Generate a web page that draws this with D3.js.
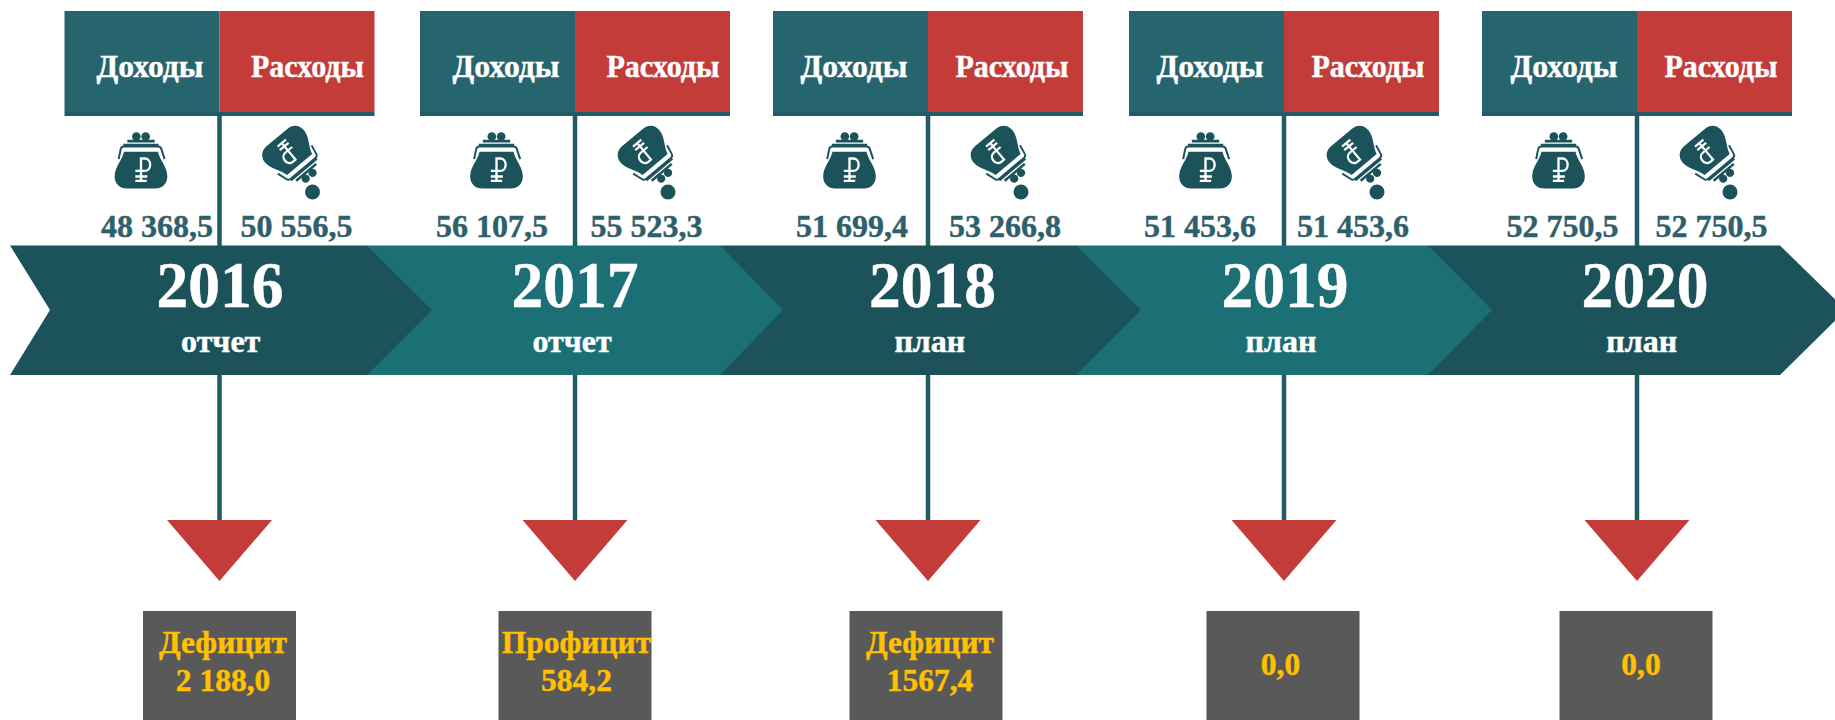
<!DOCTYPE html>
<html lang="ru">
<head>
    <meta charset="utf-8">
    <script src="https://d3js.org/d3.v7.min.js"></script>
    <style>
        html, body { margin: 0; padding: 0; background: #fff; overflow: hidden; }
        text { font-family: "Liberation Serif", serif; font-weight: bold; stroke: currentColor; stroke-width: 0.45px; }
    </style>
</head>
<body>
<div id="canvas"></div>
<script>
    // values
    var years = ["2016", "2017", "2018", "2019", "2020"];
    var statuses = ["отчет", "отчет", "план", "план", "план"];
    var incomes = [48368.5, 56107.5, 51699.4, 51453.6, 52750.5];
    var expenses = [50556.5, 55523.3, 53266.8, 51453.6, 52750.5];
    var balanceNames = ["Дефицит", "Профицит", "Дефицит", "", ""];
    var balanceValues = ["2 188,0", "584,2", "1567,4", "0,0", "0,0"];

    // the labels in the source sit a little off their columns, so offsets are per column
    var centres = [219.5, 575, 928, 1284, 1637];
    var incomeLabelDx = [-69.5, -69, -74, -74, -73];
    var expenseLabelDx = [88, 88, 84, 84, 84];
    var incomeValueDx = [-62.5, -83, -76, -84, -74.5];
    var expenseValueDx = [77, 71.6, 77, 69, 74.6];
    var yearDx = [0.5, 0, 4.5, 1, 8];
    var statusDx = [1.2, -2.9, 1.8, -3, 4.7];
    var boxDx = [0, 0, -2, -1, -1];
    var balanceDx = [3.5, 1.5, 2, -3.5, 4];

    var dark = "#1c535b", light = "#1b6f75", teal = "#27656e", stemColor = "#205c66", red = "#c43c39";

    var svg = d3.select("#canvas")
        .append("svg")
        .attr("width", 1835)
        .attr("height", 720)
        .style("display", "block");

    var x = d3.scaleOrdinal().domain(years).range(centres);
    var fmt = d3.formatLocale({ decimal: ",", thousands: " ", grouping: [3], currency: ["", ""] }).format(",.1f");

    var data = years.map(function (y, i) {
        return {
            year: y, i: i, status: statuses[i], income: incomes[i], expense: expenses[i],
            name: balanceNames[i], balance: balanceValues[i]
        };
    });

    var bandTop = 245.5, bandBottom = 375, bandMid = 310;
    var headerHalf = 155, headerTop = 11, headerBottom = 112, stripBottom = 116;
    var boxHalf = 76.5, boxTop = 611;

    // stems run behind everything
    svg.selectAll(".stem")
        .data(data)
        .enter()
        .append("rect")
        .attr("class", "stem")
        .attr("x", function (d) { return x(d.year) - 2.25; })
        .attr("y", stripBottom - 2)
        .attr("width", 4.5)
        .attr("height", 520 - stripBottom + 2)
        .attr("fill", stemColor);

    // header tiles
    var head = svg.selectAll(".head")
        .data(data)
        .enter()
        .append("g")
        .attr("class", "head")
        .attr("transform", function (d) { return "translate(" + x(d.year) + ",0)"; });

    head.append("rect")
        .attr("x", -headerHalf).attr("y", headerTop)
        .attr("width", headerHalf).attr("height", headerBottom - headerTop)
        .attr("fill", teal);
    head.append("rect")
        .attr("x", 0).attr("y", headerTop)
        .attr("width", headerHalf).attr("height", headerBottom - headerTop)
        .attr("fill", red);
    head.append("rect")
        .attr("x", -headerHalf).attr("y", headerBottom)
        .attr("width", headerHalf * 2).attr("height", stripBottom - headerBottom)
        .attr("fill", stemColor);

    head.append("text")
        .attr("x", function (d) { return incomeLabelDx[d.i]; })
        .attr("y", 77)
        .attr("text-anchor", "middle")
        .attr("font-size", 32)
        .attr("textLength", 107)
        .attr("lengthAdjust", "spacingAndGlyphs")
        .style("color", "#fff")
        .attr("fill", "#fff")
        .text("Доходы");
    head.append("text")
        .attr("x", function (d) { return expenseLabelDx[d.i]; })
        .attr("y", 77)
        .attr("text-anchor", "middle")
        .attr("font-size", 32)
        .attr("textLength", 113)
        .attr("lengthAdjust", "spacingAndGlyphs")
        .style("color", "#fff")
        .attr("fill", "#fff")
        .text("Расходы");

    // purse icon, drawn at 3x around (153,155)
    function purse(g) {
        g.append("path")
            .attr("fill", dark)
            .attr("d", "M102 96 L204 96 C210 122 232 142 232 170 C232 192 216 206 196 206 L110 206 C90 206 74 192 74 170 C74 142 96 122 102 96 Z");
        g.append("path")
            .attr("fill", "none")
            .attr("stroke", dark)
            .attr("stroke-width", 6)
            .attr("d", "M86 118 L92 88 C93 82 96 80 102 80 L204 80 C210 80 213 82 214 88 L224 118");
        g.append("path")
            .attr("fill", "none")
            .attr("stroke", dark)
            .attr("stroke-width", 8)
            .attr("d", "M100 76 L206 76 M112 64 L194 64");
        g.append("circle").attr("cx", 139).attr("cy", 50).attr("r", 13).attr("fill", dark);
        g.append("circle").attr("cx", 167).attr("cy", 50).attr("r", 13).attr("fill", dark);
        g.append("path")
            .attr("fill", "none")
            .attr("stroke", "#fff")
            .attr("stroke-width", 7)
            .attr("d", "M153 183 L153 116 L164 116 C186 116 186 153 164 153 L136 153 M136 170 L172 170 M136 183 L170 183");
    }

    var inIcon = svg.selectAll(".icon-in")
        .data(data)
        .enter()
        .append("g")
        .attr("class", "icon-in")
        .attr("transform", function (d) { return "translate(" + (x(d.year) - 78.5) + ",171.5) scale(0.3333) translate(-153,-155)"; });
    purse(inIcon);

    var outIcon = svg.selectAll(".icon-out")
        .data(data)
        .enter()
        .append("g")
        .attr("class", "icon-out")
        .attr("transform", function (d) { return "translate(" + (x(d.year) + 68) + ",150)"; });
    var outPurse = outIcon.append("g")
        .attr("transform", "rotate(140) scale(0.32) translate(-153,-155)");
    purse(outPurse);
    outIcon.append("circle").attr("cx", 25).attr("cy", 42).attr("r", 7.5).attr("fill", dark);

    // year values
    svg.selectAll(".income")
        .data(data)
        .enter()
        .append("text")
        .attr("class", "income")
        .attr("x", function (d) { return x(d.year) + incomeValueDx[d.i]; })
        .attr("y", 237)
        .attr("text-anchor", "middle")
        .attr("font-size", 32)
        .style("color", "#2f5f6b")
        .attr("fill", "#2f5f6b")
        .text(function (d) { return fmt(d.income); });
    svg.selectAll(".expense")
        .data(data)
        .enter()
        .append("text")
        .attr("class", "expense")
        .attr("x", function (d) { return x(d.year) + expenseValueDx[d.i]; })
        .attr("y", 237)
        .attr("text-anchor", "middle")
        .attr("font-size", 32)
        .style("color", "#2f5f6b")
        .attr("fill", "#2f5f6b")
        .text(function (d) { return fmt(d.expense); });

    // arrow band, earlier chevrons lie on top of later ones
    var bandLeft = [10, 367, 720, 1076, 1428];
    var bandRight = [367, 720, 1076, 1428, 1780];
    var bandTip = [432, 783, 1141, 1492, 1846];

    var line = d3.line();
    svg.selectAll(".chevron")
        .data(data.slice().reverse())
        .enter()
        .append("path")
        .attr("class", "chevron")
        .attr("fill", function (d) { return d.i % 2 ? light : dark; })
        .attr("d", function (d) {
            var l = bandLeft[d.i], r = bandRight[d.i], t = bandTip[d.i];
            var pts = [[l, bandTop], [r, bandTop], [t, bandMid], [r, bandBottom], [l, bandBottom]];
            if (d.i === 0) pts.push([50, bandMid]);
            return line(pts) + "Z";
        });

    svg.selectAll(".year")
        .data(data)
        .enter()
        .append("text")
        .attr("class", "year")
        .attr("x", function (d) { return x(d.year) + yearDx[d.i]; })
        .attr("y", 307)
        .attr("text-anchor", "middle")
        .attr("font-size", 65)
        .attr("textLength", 127)
        .attr("lengthAdjust", "spacingAndGlyphs")
        .style("color", "#fff")
        .attr("fill", "#fff")
        .text(function (d) { return d.year; });
    svg.selectAll(".status")
        .data(data)
        .enter()
        .append("text")
        .attr("class", "status")
        .attr("x", function (d) { return x(d.year) + statusDx[d.i]; })
        .attr("y", 352)
        .attr("text-anchor", "middle")
        .attr("font-size", 32)
        .style("color", "#fff")
        .attr("fill", "#fff")
        .text(function (d) { return d.status; });

    // red pointers
    svg.selectAll(".pointer")
        .data(data)
        .enter()
        .append("path")
        .attr("class", "pointer")
        .attr("fill", red)
        .attr("d", function (d) {
            var c = x(d.year);
            return line([[c - 52.5, 520], [c + 52.5, 520], [c, 581]]) + "Z";
        });

    // balance boxes
    svg.selectAll(".box")
        .data(data)
        .enter()
        .append("rect")
        .attr("class", "box")
        .attr("x", function (d) { return x(d.year) + boxDx[d.i] - boxHalf; })
        .attr("y", boxTop)
        .attr("width", boxHalf * 2)
        .attr("height", 720 - boxTop)
        .attr("fill", "#595959");

    var bal = svg.selectAll(".bal")
        .data(data)
        .enter()
        .append("g")
        .attr("class", "bal")
        .attr("transform", function (d) { return "translate(" + (x(d.year) + balanceDx[d.i]) + ",0)"; })
        .attr("font-size", 31.5)
        .style("color", "#ffc000")
        .attr("fill", "#ffc000")
        .attr("text-anchor", "middle");
    bal.append("text")
        .attr("y", 653)
        .text(function (d) { return d.name; });
    bal.append("text")
        .attr("y", function (d) { return d.name ? 691 : 675; })
        .text(function (d) { return d.balance; });
</script>
</body>
</html>
